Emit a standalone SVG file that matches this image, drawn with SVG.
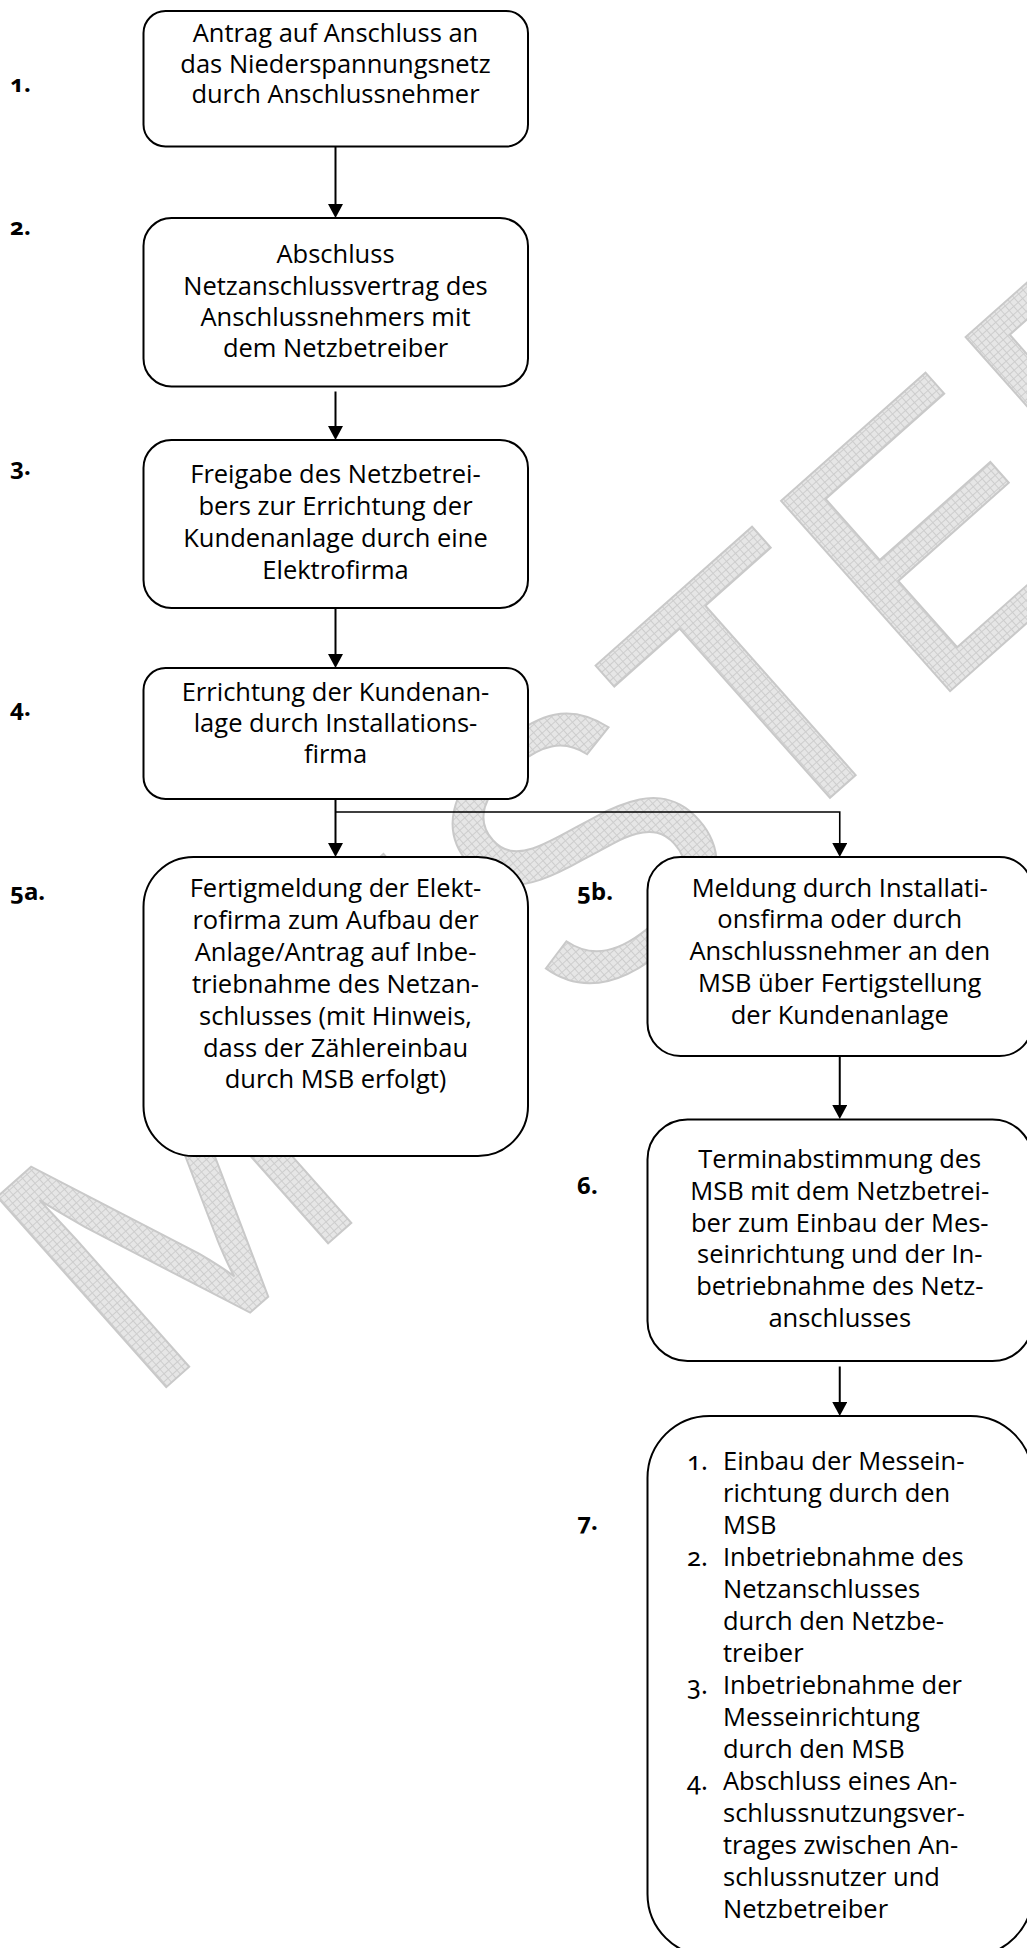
<svg xmlns="http://www.w3.org/2000/svg" width="1027" height="1948" viewBox="0 0 1027 1948">
<style>
.box{fill:#fff;stroke:#000;stroke-width:2}
.t{font-family:"Open Sans","Noto Sans","Liberation Sans",sans-serif;font-size:25.5px;fill:#000}
.c{text-anchor:middle}
.lbl{font-family:"Noto Sans","Open Sans","Liberation Sans",sans-serif;font-size:24px;font-weight:bold;fill:#000;font-variant-numeric:oldstyle-nums}
.num{font-family:"Noto Sans","Open Sans",sans-serif;font-variant-numeric:oldstyle-nums}
.conn{fill:none;stroke:#000;stroke-width:2}
.wm{font-family:"Liberation Sans",Arial,sans-serif;font-size:370px;fill:url(#hatch);stroke:#c9c9c9;stroke-width:2}
</style>
<defs>
<pattern id="hatch" width="6" height="6" patternUnits="userSpaceOnUse">
<rect width="6" height="6" fill="#e6e6e6"/>
<path d="M0,0.5H6M0.5,0V6" stroke="#cdcdcd" stroke-width="1"/>
</pattern>
<marker id="ah" viewBox="0 0 14 15" markerWidth="14" markerHeight="15" refX="4" refY="7.5" orient="auto" markerUnits="userSpaceOnUse">
<path d="M0,0L14,7.5L0,15z" fill="#000"/>
</marker>
</defs>
<rect width="1027" height="1948" fill="#fff"/>
<g id="watermark">
<text class="wm" transform="translate(640,790) rotate(-41.6)" x="0" y="132" text-anchor="middle">MUSTER</text>
</g>
<g id="connectors">
<path class="conn" d="M335.5,146.5V208" marker-end="url(#ah)"/>
<path class="conn" d="M335.5,391.5V430" marker-end="url(#ah)"/>
<path class="conn" d="M335.5,608V658" marker-end="url(#ah)"/>
<path class="conn" d="M335.5,799V847" marker-end="url(#ah)"/>
<path class="conn" d="M335.5,812H839.75V847" marker-end="url(#ah)" style="stroke-width:1.6"/>
<path class="conn" d="M839.75,1056V1109" marker-end="url(#ah)"/>
<path class="conn" d="M839.75,1366.5V1406" marker-end="url(#ah)"/>
</g>
<g id="n1">
<rect class="box" x="143.5" y="11" width="384.5" height="135.5" rx="22"/>
<text class="t c" x="335.5" y="42">Antrag auf Anschluss an</text>
<text class="t c" x="335.5" y="72.5">das Niederspannungsnetz</text>
<text class="t c" x="335.5" y="103">durch Anschlussnehmer</text>
</g>
<g id="n2">
<rect class="box" x="143.5" y="218" width="384.5" height="168.5" rx="28"/>
<text class="t c" x="335.5" y="263">Abschluss</text>
<text class="t c" x="335.5" y="295">Netzanschlussvertrag des</text>
<text class="t c" x="335.5" y="326">Anschlussnehmers mit</text>
<text class="t c" x="335.5" y="357">dem Netzbetreiber</text>
</g>
<g id="n3">
<rect class="box" x="143.5" y="440" width="384.5" height="168" rx="28"/>
<text class="t c" x="335.5" y="483">Freigabe des Netzbetrei-</text>
<text class="t c" x="335.5" y="515">bers zur Errichtung der</text>
<text class="t c" x="335.5" y="547">Kundenanlage durch eine</text>
<text class="t c" x="335.5" y="579">Elektrofirma</text>
</g>
<g id="n4">
<rect class="box" x="143.5" y="668" width="384.5" height="131" rx="22"/>
<text class="t c" x="335.5" y="701">Errichtung der Kundenan-</text>
<text class="t c" x="335.5" y="732">lage durch Installations-</text>
<text class="t c" x="335.5" y="763">firma</text>
</g>
<g id="n5a">
<rect class="box" x="143.5" y="857" width="384.5" height="299" rx="50"/>
<text class="t c" x="335.5" y="897">Fertigmeldung der Elekt-</text>
<text class="t c" x="335.5" y="929">rofirma zum Aufbau der</text>
<text class="t c" x="335.5" y="961">Anlage/Antrag auf Inbe-</text>
<text class="t c" x="335.5" y="993">triebnahme des Netzan-</text>
<text class="t c" x="335.5" y="1025">schlusses (mit Hinweis,</text>
<text class="t c" x="335.5" y="1057">dass der Zählereinbau</text>
<text class="t c" x="335.5" y="1088">durch MSB erfolgt)</text>
</g>
<g id="n5b">
<rect class="box" x="647.5" y="857" width="385" height="199" rx="33"/>
<text class="t c" x="839.75" y="897">Meldung durch Installati-</text>
<text class="t c" x="839.75" y="928">onsfirma oder durch</text>
<text class="t c" x="839.75" y="960">Anschlussnehmer an den</text>
<text class="t c" x="839.75" y="992">MSB über Fertigstellung</text>
<text class="t c" x="839.75" y="1024">der Kundenanlage</text>
</g>
<g id="n6">
<rect class="box" x="647.5" y="1119.5" width="385" height="241.5" rx="40"/>
<text class="t c" x="839.75" y="1168">Terminabstimmung des</text>
<text class="t c" x="839.75" y="1200">MSB mit dem Netzbetrei-</text>
<text class="t c" x="839.75" y="1232">ber zum Einbau der Mes-</text>
<text class="t c" x="839.75" y="1263">seinrichtung und der In-</text>
<text class="t c" x="839.75" y="1295">betriebnahme des Netz-</text>
<text class="t c" x="839.75" y="1327">anschlusses</text>
</g>
<g id="n7">
<rect class="box" x="647.5" y="1416" width="385" height="540" rx="62"/>
<text class="t num" x="687" y="1470">1.</text>
<text class="t" x="723" y="1470">Einbau der Messein-</text>
<text class="t" x="723" y="1502">richtung durch den</text>
<text class="t" x="723" y="1534">MSB</text>
<text class="t num" x="687" y="1566">2.</text>
<text class="t" x="723" y="1566">Inbetriebnahme des</text>
<text class="t" x="723" y="1598">Netzanschlusses</text>
<text class="t" x="723" y="1630">durch den Netzbe-</text>
<text class="t" x="723" y="1662">treiber</text>
<text class="t num" x="687" y="1694">3.</text>
<text class="t" x="723" y="1694">Inbetriebnahme der</text>
<text class="t" x="723" y="1726">Messeinrichtung</text>
<text class="t" x="723" y="1758">durch den MSB</text>
<text class="t num" x="687" y="1790">4.</text>
<text class="t" x="723" y="1790">Abschluss eines An-</text>
<text class="t" x="723" y="1822">schlussnutzungsver-</text>
<text class="t" x="723" y="1854">trages zwischen An-</text>
<text class="t" x="723" y="1886">schlussnutzer und</text>
<text class="t" x="723" y="1918">Netzbetreiber</text>
</g>
<g id="labels">
<text class="lbl" x="10" y="92">1.</text>
<text class="lbl" x="10" y="235">2.</text>
<text class="lbl" x="10" y="475">3.</text>
<text class="lbl" x="10" y="716">4.</text>
<text class="lbl" x="10" y="900">5a.</text>
<text class="lbl" x="577" y="900">5b.</text>
<text class="lbl" x="577" y="1194">6.</text>
<text class="lbl" x="577" y="1530">7.</text>
</g>
</svg>
